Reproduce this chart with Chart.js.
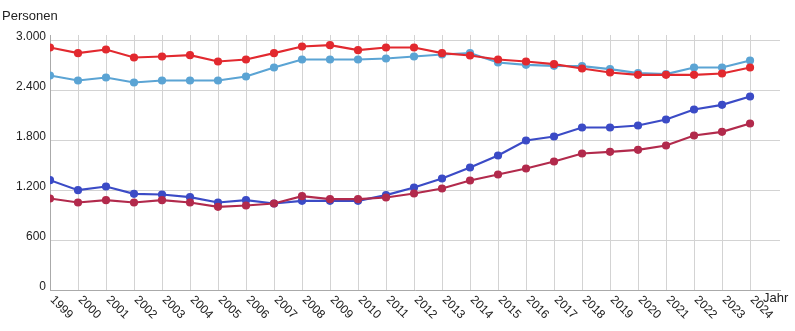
<!DOCTYPE html>
<html>
<head>
<meta charset="utf-8">
<script src="https://cdn.jsdelivr.net/npm/chart.js@4"></script>
<style>
  html, body { margin: 0; padding: 0; background: #fff; }
  #wrap { width: 795px; height: 331px; position: relative; }
</style>
</head>
<body>
<div id="wrap"><canvas id="chart"></canvas></div>
<script>
// data
const years = [1999, 2000, 2001, 2002, 2003, 2004, 2005, 2006, 2007, 2008, 2009, 2010, 2011,
  2012, 2013, 2014, 2015, 2016, 2017, 2018, 2019, 2020, 2021, 2022, 2023, 2024];
const redSeries = [2910, 2842, 2886, 2790, 2802, 2818, 2742, 2766, 2842, 2922, 2938, 2878, 2910,
  2910, 2842, 2814, 2766, 2742, 2710, 2658, 2610, 2582, 2582, 2582, 2598, 2670];
const lightBlueSeries = [2574, 2514, 2550, 2490, 2514, 2514, 2514, 2562, 2670, 2766, 2766, 2766, 2778,
  2802, 2826, 2842, 2730, 2702, 2690, 2686, 2650, 2602, 2590, 2670, 2670, 2754];
const blueSeries = [1318, 1198, 1242, 1154, 1146, 1114, 1050, 1078, 1038, 1070, 1070, 1070, 1138,
  1230, 1338, 1470, 1614, 1794, 1842, 1950, 1950, 1974, 2046, 2166, 2222, 2322];
const crimsonSeries = [1098, 1050, 1078, 1050, 1078, 1050, 998, 1014, 1038, 1126, 1090, 1090, 1110,
  1158, 1218, 1314, 1386, 1458, 1542, 1638, 1658, 1682, 1734, 1854, 1898, 1998];
const yTicks = [0, 600, 1200, 1800, 2400, 3000];
const yTickLabels = ['0', '600', '1.200', '1.800', '2.400', '3.000'];
const yTitle = 'Personen';
const xTitle = 'Jahr';

function pts(arr) {
  return years.map((y, i) => ({ x: y, y: arr[i] }));
}

function ds(data, color) {
  return {
    data: pts(data),
    borderColor: color,
    backgroundColor: color,
    borderWidth: 2.2,
    pointRadius: 3,
    pointHoverRadius: 3,
    tension: 0
  };
}

const textFont = '12px "Liberation Sans", Arial, sans-serif';

// own labels: x ticks slanted down to the right, axis titles
const labelsPlugin = {
  id: 'labels',
  afterDraw(chart) {
    const ctx = chart.ctx;
    const xs = chart.scales.x;
    const ys = chart.scales.y;
    ctx.save();
    ctx.fillStyle = '#222';
    ctx.font = textFont;
    ctx.textAlign = 'left';
    ctx.textBaseline = 'middle';
    years.forEach(y => {
      const px = xs.getPixelForValue(y);
      ctx.save();
      ctx.translate(px + 2, ys.bottom + 8);
      ctx.rotate(Math.PI / 4);
      ctx.fillText(String(y), 0, 0);
      ctx.restore();
    });
    ctx.font = '13px "Liberation Sans", Arial, sans-serif';
    ctx.fillText(xTitle, xs.getPixelForValue(years[years.length - 1]) + 13, ys.bottom + 8);
    ctx.fillText(yTitle, 2, 16);
    ctx.restore();
  }
};

new Chart(document.getElementById('chart'), {
  type: 'line',
  data: {
    datasets: [
      ds(crimsonSeries, '#b22a4c'),
      ds(blueSeries, '#3b4bc6'),
      ds(redSeries, '#e2292f'),
      ds(lightBlueSeries, '#5ba4d4')
    ]
  },
  options: {
    responsive: true,
    maintainAspectRatio: false,
    animation: false,
    layout: { padding: { top: 35, right: 15, left: 0, bottom: 0 } },
    plugins: { legend: { display: false }, tooltip: { enabled: false } },
    scales: {
      x: {
        type: 'linear',
        min: 1999,
        max: 2025.07,
        afterBuildTicks: s => { s.ticks = years.map(v => ({ value: v })); },
        afterFit: s => { s.height = 41; },
        ticks: { display: false },
        grid: { color: '#d3d3d3', drawTicks: false, lineWidth: 1 },
        border: { color: '#aaaaaa' }
      },
      y: {
        min: 0,
        max: 3060,
        afterBuildTicks: s => { s.ticks = yTicks.map(v => ({ value: v })); },
        afterFit: s => { s.width = 50; },
        ticks: {
          color: '#222',
          font: { family: '"Liberation Sans", Arial, sans-serif', size: 12 },
          padding: 4,
          labelOffset: -3,
          callback: (v) => yTickLabels[yTicks.indexOf(v)]
        },
        grid: { color: '#d3d3d3', drawTicks: false, lineWidth: 1 },
        border: { color: '#aaaaaa' }
      }
    }
  },
  plugins: [labelsPlugin]
});
</script>
</body>
</html>
